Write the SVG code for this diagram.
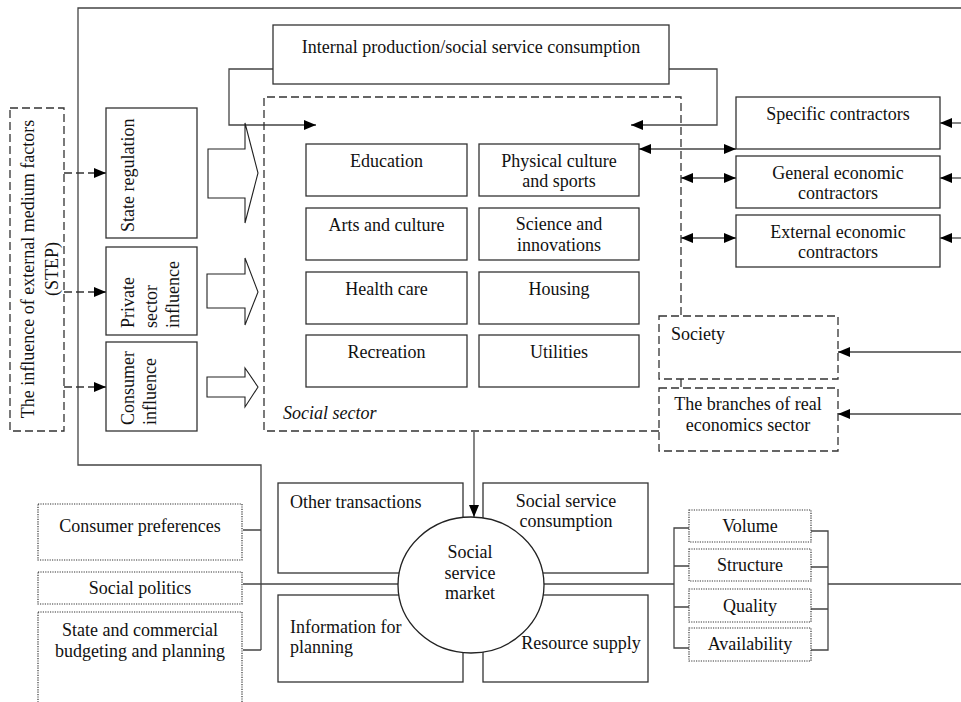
<svg xmlns="http://www.w3.org/2000/svg" width="961" height="702" viewBox="0 0 961 702">
<style>
text{font-family:"Liberation Serif","Times New Roman",serif;font-size:18px;fill:#111}
.c{text-anchor:middle}
.box{fill:#fff;stroke:#333;stroke-width:1.3}
.dash{fill:none;stroke:#333;stroke-width:1.3;stroke-dasharray:8 4}
.dot{fill:#fff;stroke:#333;stroke-width:1.2;stroke-dasharray:1.2 1.2}
.ln{fill:none;stroke:#444;stroke-width:1.3}
.blk{fill:#fff;stroke:#222;stroke-width:1.1}
</style>
<defs>
<marker id="ah" viewBox="0 0 12 10" refX="12" refY="5" markerWidth="12" markerHeight="10" orient="auto-start-reverse" markerUnits="userSpaceOnUse"><path d="M0,0 L12,5 L0,10z" fill="#000"/></marker>
</defs>
<g id="connectors">
<path class="ln" d="M961,8 H78 V465 H261 V650 M243,530 H261 M243,650 H261"/>
<path class="ln" d="M243,584 H400"/>
<path class="ln" d="M540,584 H674 M828,584 H961"/>
<path class="ln" d="M689,528 H674 V648 H689 M674,566 H689 M674,607 H689"/>
<path class="ln" d="M811,531 H828 V650 H811 M811,567 H828 M811,609 H828"/>
<path class="dash" d="M64,173 H106" marker-end="url(#ah)"/>
<path class="dash" d="M64,292 H106" marker-end="url(#ah)"/>
<path class="dash" d="M64,387 H106" marker-end="url(#ah)"/>
<path class="ln" d="M273,69 H229 V125 H316" marker-end="url(#ah)"/>
<path class="ln" d="M669,69 H717 V125 H631" marker-end="url(#ah)"/>
<path class="ln" d="M639,149 H736" marker-start="url(#ah)" marker-end="url(#ah)"/>
<path class="ln" d="M681,178 H736" marker-start="url(#ah)" marker-end="url(#ah)"/>
<path class="ln" d="M681,238 H736" marker-start="url(#ah)" marker-end="url(#ah)"/>
<path class="ln" d="M961,123 H940" marker-end="url(#ah)"/>
<path class="ln" d="M961,178 H940" marker-end="url(#ah)"/>
<path class="ln" d="M961,238 H940" marker-end="url(#ah)"/>
<path class="ln" d="M961,352 H838" marker-end="url(#ah)"/>
<path class="ln" d="M961,414 H838" marker-end="url(#ah)"/>
<path class="ln" d="M474,432 V517" marker-end="url(#ah)"/>
<polygon class="blk" points="208,149 245,149 245,123 258,173 245,223 245,198 208,198"/>
<polygon class="blk" points="207,274 245,274 245,258 258,292 245,325 245,308 207,308"/>
<polygon class="blk" points="207,377 245,377 245,368 258,387 245,407 245,397 207,397"/>
</g>
<g id="step">
<rect class="dash" x="10" y="108" width="54" height="323"/>
<text class="c" transform="translate(34,269) rotate(-90)">The influence of external medium factors</text>
<text class="c" transform="translate(58,269) rotate(-90)">(STEP)</text>
</g>
<g id="state-regulation">
<rect class="box" x="106" y="108" width="91" height="130"/>
<text transform="translate(134,232) rotate(-90)">State regulation</text>
</g>
<g id="private-sector">
<rect class="box" x="106" y="247" width="91" height="88"/>
<text transform="translate(134,328) rotate(-90)">Private</text>
<text transform="translate(157,328) rotate(-90)">sector</text>
<text transform="translate(179,328) rotate(-90)">influence</text>
</g>
<g id="consumer-influence">
<rect class="box" x="106" y="342" width="91" height="89"/>
<text transform="translate(134,425) rotate(-90)">Consumer</text>
<text transform="translate(156,425) rotate(-90)">influence</text>
</g>
<g id="internal-production">
<rect class="box" x="273" y="25" width="396" height="59"/>
<text class="c" x="471" y="53">Internal production/social service consumption</text>
</g>
<g id="social-sector">
<path class="dash" d="M659,431 H264 V97 H681 V316 M681,379 V388"/>
<text x="283" y="419" font-style="italic">Social sector</text>
</g>
<g id="education"><rect class="box" x="306" y="144" width="161" height="52"/><text class="c" x="386.5" y="167">Education</text></g>
<g id="physical-culture"><rect class="box" x="479" y="144" width="160" height="52"/><text class="c" x="559" y="167">Physical culture</text><text class="c" x="559" y="187">and sports</text></g>
<g id="arts"><rect class="box" x="306" y="208" width="161" height="52"/><text class="c" x="386.5" y="231">Arts and culture</text></g>
<g id="science"><rect class="box" x="479" y="208" width="160" height="52"/><text class="c" x="559" y="230">Science and</text><text class="c" x="559" y="251">innovations</text></g>
<g id="health"><rect class="box" x="306" y="272" width="161" height="52"/><text class="c" x="386.5" y="295">Health care</text></g>
<g id="housing"><rect class="box" x="479" y="272" width="160" height="52"/><text class="c" x="559" y="295">Housing</text></g>
<g id="recreation"><rect class="box" x="306" y="335" width="161" height="52"/><text class="c" x="386.5" y="358">Recreation</text></g>
<g id="utilities"><rect class="box" x="479" y="335" width="160" height="52"/><text class="c" x="559" y="358">Utilities</text></g>
<g id="specific-contractors"><rect class="box" x="736" y="97" width="204" height="52"/><text class="c" x="838" y="120">Specific contractors</text></g>
<g id="general-contractors"><rect class="box" x="736" y="156" width="204" height="52"/><text class="c" x="838" y="179">General economic</text><text class="c" x="838" y="199">contractors</text></g>
<g id="external-contractors"><rect class="box" x="736" y="215" width="204" height="52"/><text class="c" x="838" y="238">External economic</text><text class="c" x="838" y="258">contractors</text></g>
<g id="society"><rect class="dash" x="659" y="316" width="179" height="63"/><text x="671" y="340">Society</text></g>
<g id="branches"><rect class="dash" x="659" y="388" width="179" height="63"/><text class="c" x="748" y="410">The branches of real</text><text class="c" x="748" y="431">economics sector</text></g>
<g id="other-transactions"><rect class="box" x="278" y="483" width="185" height="90"/><text x="290" y="508">Other transactions</text></g>
<g id="info-planning"><rect class="box" x="278" y="595" width="185" height="87"/><text x="290" y="633">Information for</text><text x="290" y="653">planning</text></g>
<g id="ss-consumption"><rect class="box" x="483" y="483" width="165" height="90"/><text class="c" x="566" y="507">Social service</text><text class="c" x="566" y="527">consumption</text></g>
<g id="resource-supply"><rect class="box" x="483" y="595" width="165" height="87"/><text class="c" x="581" y="649">Resource supply</text></g>
<g id="market"><ellipse cx="471" cy="585" rx="73" ry="68" fill="#fff" stroke="#222" stroke-width="1.3"/><text class="c" x="470" y="558">Social</text><text class="c" x="470" y="579">service</text><text class="c" x="470" y="599">market</text></g>
<g id="consumer-preferences"><rect class="dot" x="38" y="504" width="204" height="56"/><text class="c" x="140" y="532">Consumer preferences</text></g>
<g id="social-politics"><rect class="dot" x="38" y="572" width="204" height="32"/><text class="c" x="140" y="594">Social politics</text></g>
<g id="budgeting"><rect class="dot" x="38" y="612" width="204" height="110"/><text class="c" x="140" y="636">State and commercial</text><text class="c" x="140" y="657">budgeting and planning</text></g>
<g id="volume"><rect class="dot" x="689" y="510" width="122" height="32"/><text class="c" x="750" y="532">Volume</text></g>
<g id="structure"><rect class="dot" x="689" y="549" width="122" height="32"/><text class="c" x="750" y="571">Structure</text></g>
<g id="quality"><rect class="dot" x="689" y="589" width="122" height="33"/><text class="c" x="750" y="612">Quality</text></g>
<g id="availability"><rect class="dot" x="689" y="628" width="122" height="33"/><text class="c" x="750" y="650">Availability</text></g>
</svg>
